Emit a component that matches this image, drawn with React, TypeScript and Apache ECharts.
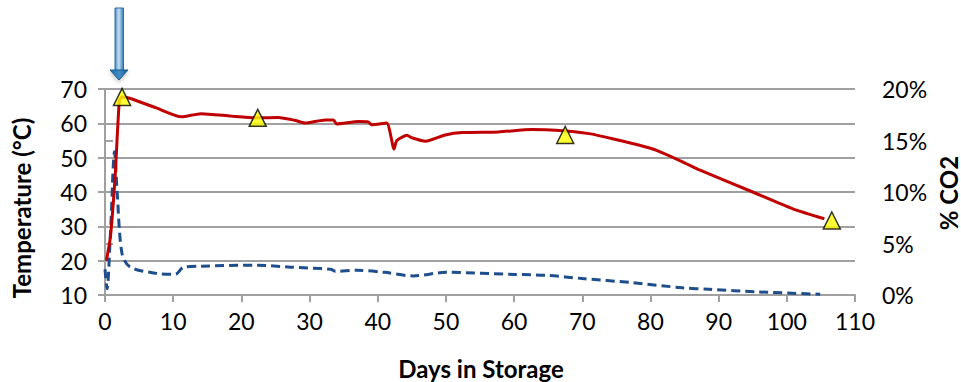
import React, { useEffect, useRef } from "react";
import * as echarts from "echarts";

const tempDays = [0.2, 0.8, 1.5, 2.1, 2.5, 3.6, 7.5, 11.2, 14.1, 18.5, 22.3, 25.4, 27.8, 29.3, 32.3, 33.5, 34.0, 37.2, 38.6, 39.1, 41.3, 42.4, 42.8, 44.3, 45.0, 47.0, 49.9, 52.4, 57.7, 62.6, 66.1, 71.0, 74.9, 78.8, 80.8, 84.7, 87.1, 95.0, 100.9, 105.5];
const tempValues = [20, 27, 45, 66.5, 67.7, 67.3, 64.5, 61.9, 62.8, 62.1, 61.6, 61.7, 60.9, 60.1, 61.0, 61.0, 59.8, 60.5, 60.4, 59.6, 60.1, 52.5, 55.0, 56.5, 55.8, 54.8, 56.6, 57.3, 57.5, 58.2, 58.0, 57.0, 55.3, 53.4, 52.2, 48.8, 46.5, 40.0, 35.1, 32.2];

const co2Days = [0.0, 0.3, 0.8, 1.4, 1.8, 2.5, 3.7, 7.6, 10.3, 11.5, 14.0, 22.3, 27.2, 33.1, 33.8, 37.0, 41.0, 45.2, 50.0, 60.1, 65.0, 70.0, 77.3, 84.7, 88.6, 95.9, 104.9];
const co2Values = [0.025, 0.006, 0.06, 0.139, 0.098, 0.04, 0.027, 0.021, 0.02, 0.027, 0.028, 0.029, 0.027, 0.025, 0.023, 0.024, 0.022, 0.0185, 0.022, 0.02, 0.019, 0.016, 0.012, 0.007, 0.0055, 0.003, 0.0007];

const markerDays = [2.5, 22.4, 67.5, 106.6];
const markerTemps = [67.7, 61.6, 56.6, 31.7];

const xTicks = [0, 10, 20, 30, 40, 50, 60, 70, 80, 90, 100, 110];
const FONT = "Lato";

export default function App() {
  const ref = useRef<HTMLDivElement>(null);
  useEffect(() => {
    if (!ref.current) return;
    const chart = echarts.init(ref.current, null, { renderer: "svg" });
    const gridColor = "#a0a0a0";
    const titleStyle = {
      fontFamily: FONT,
      fontWeight: "bold",
      fontSize: 24,
      fill: "#000",
      textAlign: "center",
      textVerticalAlign: "middle",
    };
    chart.setOption({
      animation: false,
      grid: { left: 105, right: 106, top: 89, bottom: 87, containLabel: false },
      xAxis: {
        type: "value",
        min: xTicks[0],
        max: xTicks[xTicks.length - 1],
        interval: 10,
        axisLine: { show: true, lineStyle: { color: gridColor, width: 2 } },
        axisTick: { show: true, length: 7, lineStyle: { color: gridColor, width: 2 } },
        axisLabel: { color: "#000", fontFamily: FONT, fontSize: 23, margin: 14 },
        splitLine: { show: false },
      },
      yAxis: [
        {
          type: "value",
          min: 10,
          max: 70,
          interval: 10,
          axisLine: { show: true, onZero: false, lineStyle: { color: gridColor, width: 2 } },
          axisTick: { show: true, length: 7, lineStyle: { color: gridColor, width: 2 } },
          axisLabel: { color: "#000", fontFamily: FONT, fontSize: 23, margin: 18 },
          splitLine: { show: true, lineStyle: { color: gridColor, width: 2 } },
        },
        {
          type: "value",
          min: 0,
          max: 0.2,
          interval: 0.05,
          position: "right",
          axisLine: { show: true, lineStyle: { color: gridColor, width: 2 } },
          axisTick: { show: true, length: 8, lineStyle: { color: gridColor, width: 2 } },
          axisLabel: {
            color: "#000",
            fontFamily: FONT,
            fontSize: 23,
            margin: 27,
            formatter: (v: number) => Math.round(v * 100) + "%",
          },
          splitLine: { show: false },
        },
      ],
      series: [
        {
          type: "line",
          name: "CO2",
          yAxisIndex: 1,
          data: co2Days.map((d, i) => [d, co2Values[i]]),
          showSymbol: false,
          smooth: 0.3,
          lineStyle: { color: "#1f4e8c", width: 3, type: [9, 5] },
          z: 2,
        },
        {
          type: "line",
          name: "Temperature",
          yAxisIndex: 0,
          data: tempDays.map((d, i) => [d, tempValues[i]]),
          showSymbol: false,
          smooth: 0.2,
          lineStyle: { color: "#c00000", width: 3 },
          z: 3,
        },
        {
          type: "scatter",
          name: "Samples",
          yAxisIndex: 0,
          data: markerDays.map((d, i) => [d, markerTemps[i]]),
          symbol: "triangle",
          symbolSize: [17, 17],
          itemStyle: { color: "#ffff00", borderColor: "#000", borderWidth: 1.5 },
          z: 5,
        },
      ],
      graphic: [
        {
          type: "text",
          rotation: Math.PI / 2,
          x: 21,
          y: 208,
          style: { text: "Temperature (°C)", ...titleStyle },
        },
        {
          type: "text",
          rotation: Math.PI / 2,
          x: 948,
          y: 193,
          style: { text: "% CO2", ...titleStyle },
        },
        {
          type: "text",
          x: 481,
          y: 368,
          style: { text: "Days in Storage", ...titleStyle },
        },
        {
          type: "rect",
          shape: { x: 115, y: 8, width: 8.5, height: 63 },
          style: {
            fill: new echarts.graphic.LinearGradient(0, 0, 1, 0, [
              { offset: 0, color: "#4a8cc4" },
              { offset: 0.45, color: "#c6e2f7" },
              { offset: 1, color: "#2f78b4" },
            ]),
            stroke: "#2a6fa8",
            lineWidth: 1,
          },
        },
        {
          type: "polygon",
          shape: { points: [[110, 70], [128, 70], [119, 80]] },
          style: {
            fill: new echarts.graphic.LinearGradient(0, 0, 1, 0, [
              { offset: 0, color: "#1f6aa0" },
              { offset: 0.5, color: "#3f8cc6" },
              { offset: 1, color: "#1a5d8f" },
            ]),
            stroke: "#1a5d8f",
            lineWidth: 1,
            shadowBlur: 4,
            shadowColor: "rgba(0,0,0,0.25)",
            shadowOffsetY: 2,
          },
        },
      ],
    });
    return () => chart.dispose();
  }, []);
  return <div ref={ref} style={{ width: 961, height: 382, position: "absolute", left: 0, top: 0 }} />;
}
